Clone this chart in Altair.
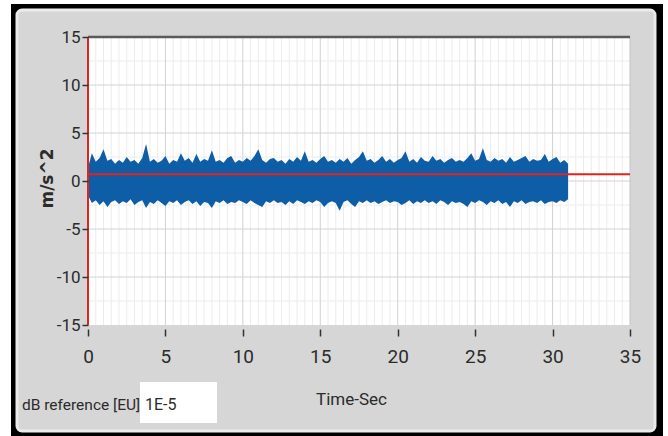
import altair as alt
import pandas as pd

# ---------------- data ----------------
T_STEP = 0.25  # s between envelope readings
upper = [
    1.4, 2.9, 2.0, 2.4, 3.3, 2.1, 2.3, 1.8,
    2.2, 1.9, 2.5, 2.0, 2.2, 1.8, 2.4, 3.85,
    2.0, 2.3, 1.9, 2.1, 2.6, 1.8, 2.2, 2.0,
    2.9, 2.1, 2.4, 1.9, 2.8, 2.0, 2.3, 2.1,
    3.2, 2.0, 2.2, 1.9, 2.4, 2.6, 1.9, 2.2,
    2.0, 2.4, 2.1, 2.6, 3.3, 2.2, 1.9, 2.3,
    2.4, 2.0, 2.2, 1.8, 2.3, 2.0, 2.5, 2.1,
    3.1, 2.0, 2.2, 1.9, 2.3, 2.6, 2.0, 2.2,
    1.9, 2.3, 2.0, 2.4, 1.8, 2.2, 2.5, 3.1,
    2.1, 2.3, 1.9, 2.2, 2.6, 2.0, 2.3, 1.9,
    2.2, 2.4, 3.1, 2.0, 2.3, 1.9, 2.5, 2.1,
    2.0, 2.6, 2.1, 2.3, 1.9, 2.2, 2.4, 2.0,
    2.2, 2.0, 2.4, 2.9, 2.1, 2.3, 3.4, 2.2,
    2.0, 2.4, 2.1, 2.3, 1.9, 2.5, 2.0, 2.2,
    2.4, 2.6, 2.0, 2.3, 2.1, 2.2, 2.8, 2.0,
    2.3, 2.5, 1.9, 2.2, 1.8,
]
lower = [
    -1.5, -2.3, -2.0, -2.5, -2.1, -2.7, -2.2, -2.0,
    -2.4, -2.1, -2.3, -1.9, -2.5, -2.2, -2.0, -2.8,
    -2.2, -2.4, -2.0, -2.3, -2.6, -2.1, -2.3, -2.0,
    -2.5, -2.2, -2.0, -2.4, -2.1, -2.6, -2.2, -2.3,
    -2.8, -2.1, -2.3, -2.0, -2.4, -2.2, -2.3, -2.0,
    -2.2, -2.4, -2.0, -2.3, -2.5, -2.7, -2.1, -2.3,
    -2.0, -2.3, -2.2, -2.5, -2.1, -2.4, -2.0, -2.2,
    -2.4, -2.1, -2.3, -2.0, -2.2, -2.7, -2.3, -2.1,
    -2.3, -3.1, -2.2, -2.0, -2.4, -2.7, -2.1, -2.3,
    -2.0, -2.3, -2.1, -2.4, -2.2, -2.0, -2.3, -2.1,
    -2.2, -2.5, -2.3, -2.0, -2.4, -2.1, -2.3, -2.0,
    -2.3, -2.1, -2.4, -2.0, -2.2, -2.5, -2.1, -2.3,
    -2.2, -2.4, -2.7, -2.1, -2.3, -2.0, -2.2, -2.5,
    -2.1, -2.3, -2.0, -2.4, -2.2, -2.7, -2.1, -2.3,
    -2.0, -2.4, -2.2, -2.1, -2.3, -2.0, -2.4, -2.2,
    -2.1, -2.3, -2.0, -2.2, -1.9,
]
time = [i * T_STEP for i in range(len(upper))]

x_ticks = [0, 5, 10, 15, 20, 25, 30, 35]
y_ticks = [-15, -10, -5, 0, 5, 10, 15]
x_major = [5, 10, 15, 20, 25, 30]
x_minor = [v / 2 for v in range(1, 70) if v % 10 != 0]
y_major = [-10, -5, 0, 5, 10]
y_minor = [-12.5, -7.5, -2.5, 2.5, 7.5, 12.5]
ref_level = [0.7]
x_range = [0, 35]
y_range = [-15, 15]

x_title = "Time-Sec"
y_title = "m/s^2"
db_label = "dB reference [EU]"
db_value = "1E-5"

# ---------------- chart ----------------
W, H = 542, 288
FONT = "Roboto"
xs = alt.Scale(domain=x_range, nice=False, zero=False)
ys = alt.Scale(domain=y_range, nice=False, zero=False)
one = pd.DataFrame({"a": [0]})

X_AX = alt.Axis(
    values=x_ticks, labelExpr="datum.value + ''", title=x_title, labelFlush=False,
    grid=False, domain=False, offset=4, tickSize=7, tickWidth=1.5, tickColor="#333",
    labelFont=FONT, labelFontSize=19, labelColor="#2b2b2b", labelPadding=11,
    titleFont=FONT, titleFontSize=17, titleFontWeight="normal", titleColor="#2b2b2b",
    titleX=263, titleY=70, titleAlign="center", titleBaseline="middle", zindex=1)
Y_AX = alt.Axis(
    values=y_ticks, labelExpr="datum.value + ''", title=y_title, labelFlush=False,
    grid=False, domain=False, tickSize=6, tickWidth=1.5, tickColor="#333",
    labelFont=FONT, labelFontSize=17, labelColor="#2b2b2b", labelPadding=2,
    titleFont="DejaVu Sans", titleFontSize=17, titleFontWeight="bold", titleColor="#2b2b2b",
    titleX=-41, titleY=141, titleAngle=270, titleAlign="center", titleBaseline="middle",
    zindex=1)


def X(f):
    return alt.X(f, scale=xs, axis=X_AX)


def Y(f):
    return alt.Y(f, scale=ys, axis=Y_AX)


frame = alt.Chart(one).mark_rect(color="black").encode(
    x=alt.value(-77), x2=alt.value(575), y=alt.value(-33), y2=alt.value(399))
panel = alt.Chart(one).mark_rect(
    fill="#d6d6d6", stroke="#ebebeb", strokeWidth=3, cornerRadius=5).encode(
    x=alt.value(-71), x2=alt.value(567), y=alt.value(-27), y2=alt.value(394))
plotbg = alt.Chart(one).mark_rect(fill="white").encode(
    x=alt.value(0), x2=alt.value(W), y=alt.value(0), y2=alt.value(H))


def vrules(vals, color, w):
    return alt.Chart(pd.DataFrame({"v": vals})).mark_rule(color=color, strokeWidth=w).encode(
        x=X("v:Q"))


def hrules(vals, color, w):
    return alt.Chart(pd.DataFrame({"v": vals})).mark_rule(color=color, strokeWidth=w).encode(
        y=Y("v:Q"))


grid_layers = [
    vrules(x_minor, "#ececec", 1),
    hrules(y_minor, "#ececec", 1),
    vrules(x_major, "#d2d2d2", 1),
    hrules(y_major, "#d2d2d2", 1),
]

sig = pd.DataFrame({"t": time, "hi": upper, "lo": lower})
signal = alt.Chart(sig).mark_area(color="#0d5ea6", interpolate="linear").encode(
    x=X("t:Q"), y=Y("hi:Q"), y2="lo:Q")

hline = alt.Chart(pd.DataFrame({"y": ref_level, "x0": [x_range[0]], "x1": [x_range[1]]})).mark_rule(
    color="#e3231c", strokeWidth=2).encode(y=Y("y:Q"), x=X("x0:Q"), x2="x1:Q")
vline = alt.Chart(pd.DataFrame({"x": [x_range[0]], "y0": [y_range[0]], "y1": [y_range[1]]})).mark_rule(
    color="#e3231c", strokeWidth=2).encode(x=X("x:Q"), y=Y("y0:Q"), y2="y1:Q")
topline = alt.Chart(pd.DataFrame({"y": [y_range[1]], "x0": [x_range[0]], "x1": [x_range[1]]})).mark_rule(
    color="#5a5a5a", strokeWidth=2.5).encode(y=Y("y:Q"), x=X("x0:Q"), x2="x1:Q")
rightline = alt.Chart(pd.DataFrame({"x": [x_range[1]], "y0": [y_range[0]], "y1": [y_range[1]]})).mark_rule(
    color="#c4c4c4", strokeWidth=1).encode(x=X("x:Q"), y=Y("y0:Q"), y2="y1:Q")

dbtext = alt.Chart(pd.DataFrame({"s": [db_label]})).mark_text(
    font=FONT, fontSize=15.5, color="#2b2b2b", align="left", baseline="middle").encode(
    text="s:N", x=alt.value(-66), y=alt.value(368))
dbbox = alt.Chart(one).mark_rect(fill="white").encode(
    x=alt.value(52), x2=alt.value(129), y=alt.value(345), y2=alt.value(386))
dbval = alt.Chart(pd.DataFrame({"s": [db_value]})).mark_text(
    font=FONT, fontSize=16, color="#2b2b2b", align="left", baseline="middle").encode(
    text="s:N", x=alt.value(57), y=alt.value(368))

chart = alt.layer(
    frame, panel, plotbg, *grid_layers, signal, rightline, hline, vline, topline,
    dbbox, dbtext, dbval,
).properties(
    width=W, height=H,
    padding={"left": 88, "top": 37, "right": 38, "bottom": 111},
    autosize=alt.AutoSizeParams(type="none"),
    background="white",
).configure_view(stroke=None)

chart.save("out.html", embed_options={"renderer": "svg", "actions": False})
